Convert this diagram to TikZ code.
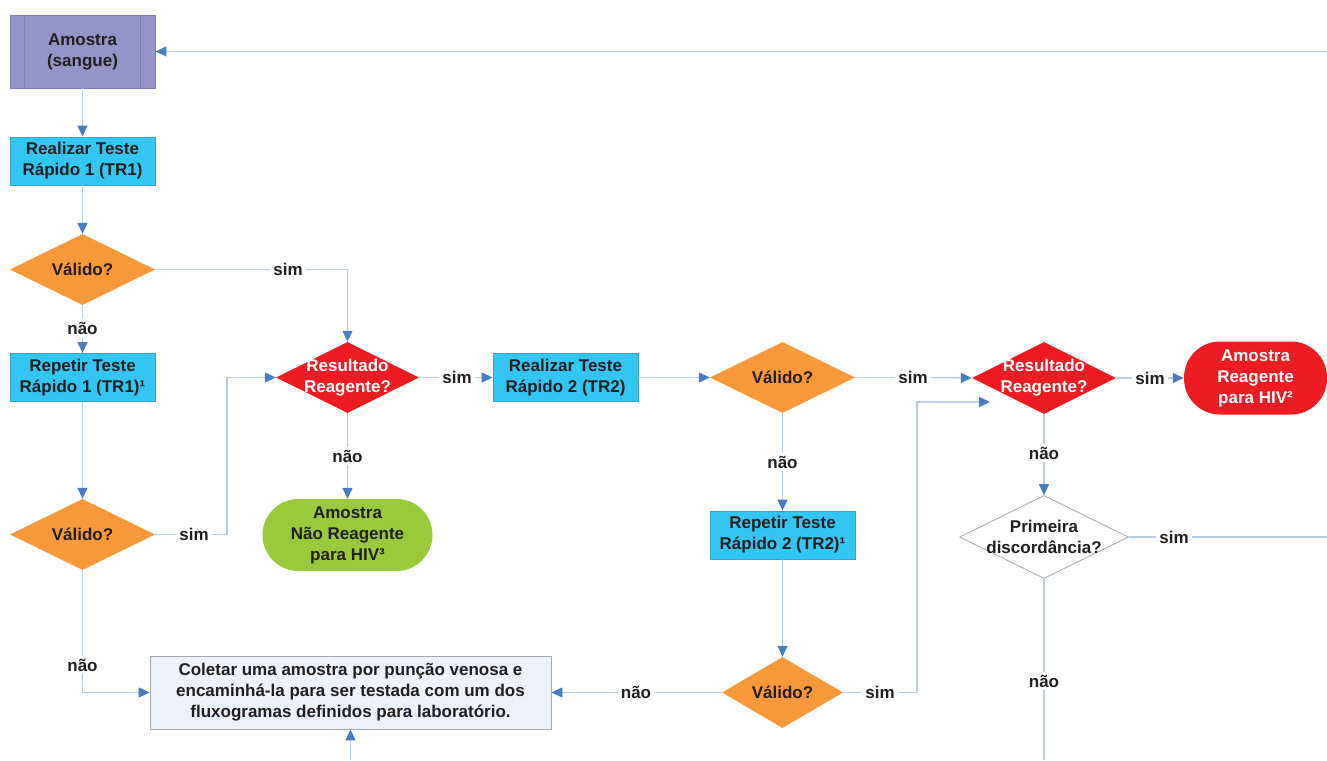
\documentclass[tikz,border=0pt]{standalone}
\usepackage{fontspec}
\setmainfont{Liberation Sans}
\usetikzlibrary{shapes.geometric,arrows.meta}
\definecolor{txt}{HTML}{231F20}
\definecolor{purplef}{HTML}{9594C8}
\definecolor{purpleb}{HTML}{7D7CB0}
\definecolor{cyanf}{HTML}{33C6F2}
\definecolor{cyanb}{HTML}{3AA0D2}
\definecolor{orangef}{HTML}{F7993A}
\definecolor{redf}{HTML}{ED1C24}
\definecolor{greenf}{HTML}{9BC93C}
\definecolor{colf}{HTML}{ECF1FA}
\definecolor{colb}{HTML}{A8A8A8}
\definecolor{linec}{HTML}{BACDE6}
\definecolor{arrc}{HTML}{4A7CC4}
\begin{document}
\begin{tikzpicture}[x=1pt,y=-1pt,
  every node/.style={font=\fontsize{17}{21}\selectfont\bfseries, text=txt},
  box/.style={draw=cyanb, fill=cyanf, line width=0.8pt, minimum width=145pt, minimum height=48pt, inner sep=0pt, align=center},
  dia/.style={diamond, minimum width=145pt, minimum height=71pt, inner sep=0pt},
  term/.style={minimum height=72pt, rounded corners=36pt, inner sep=0pt, align=center},
  lbl/.style={fill=white, inner sep=3pt},
  conn/.style={draw=linec, line width=1.3pt},
  arr/.style={conn, -{Triangle[length=11pt,width=10pt,color=arrc]}}
]
\useasboundingbox (0,0) rectangle (1327,760);

% nodes
\node[draw=purpleb, fill=purplef, line width=0.8pt, minimum width=145pt, minimum height=73pt, inner sep=0pt, align=center] (am) at (82.5,51.5) {Amostra\\(sangue)};
\draw[purpleb, line width=0.8pt] ([xshift=15pt]am.north west) -- ([xshift=15pt]am.south west);
\draw[purpleb, line width=0.8pt] ([xshift=-15pt]am.north east) -- ([xshift=-15pt]am.south east);

\node[box] (tr1) at (82.5,161) {Realizar Teste\\Rápido 1 (TR1)};
\node[dia, fill=orangef, label={center:Válido?}] (v1) at (82.5,269.5) {};
\node[box] (rep1) at (82.5,377.5) {Repetir Teste\\Rápido 1 (TR1)¹};
\node[dia, fill=orangef, label={center:Válido?}] (v2) at (82.5,534.5) {};

\node[dia, fill=redf, minimum width=143pt, label={[text=white, align=center]center:Resultado\\Reagente?}] (r1) at (347.5,377.5) {};
\node[term, fill=greenf, minimum width=170pt] (g1) at (347.5,535) {Amostra\\Não Reagente\\para HIV³};

\node[box] (tr2) at (565.5,377.5) {Realizar Teste\\Rápido 2 (TR2)};
\node[dia, fill=orangef, label={center:Válido?}] (v3) at (782.5,377.5) {};
\node[box] (rep2) at (782.5,535) {Repetir Teste\\Rápido 2 (TR2)¹};
\node[dia, fill=orangef, minimum width=121pt, label={center:Válido?}] (v4) at (782.5,692.5) {};

\node[draw=colb, fill=colf, line width=0.8pt, minimum width=401pt, minimum height=73pt, inner sep=0pt, align=center] (co) at (350.5,692.5) {Coletar uma amostra por punção venosa e\\encaminhá-la para ser testada com um dos\\fluxogramas definidos para laboratório.};

\node[dia, fill=redf, minimum width=144pt, minimum height=72pt, label={[text=white, align=center]center:Resultado\\Reagente?}] (r2) at (1044,378) {};
\node[term, fill=redf, minimum width=143pt, minimum height=73pt, text=white] (rt) at (1255.5,378) {Amostra\\Reagente\\para HIV²};
\node[dia, fill=white, draw=colb, line width=0.8pt, minimum width=169pt, minimum height=83pt, label={[align=center]center:Primeira\\discordância?}] (pd) at (1044,537) {};

% labels
\node[lbl] (s1) at (288,269.5) {sim};
\node[lbl] (n1) at (82.5,328) {não};
\node[lbl] (s2) at (194,534.5) {sim};
\node[lbl] (n2) at (82.5,665) {não};
\node[lbl] (n3) at (347.5,456) {não};
\node[lbl] (s3) at (457,377.5) {sim};
\node[lbl] (s4) at (913,377.5) {sim};
\node[lbl] (n4) at (782.5,462) {não};
\node[lbl] (n5) at (636,692.5) {não};
\node[lbl] (s5) at (880,692.5) {sim};
\node[lbl] (s6) at (1150,378) {sim};
\node[lbl] (n6) at (1044,453) {não};
\node[lbl] (s7) at (1174,537) {sim};
\node[lbl] (n7) at (1044,681) {não};

% free ends
\coordinate (topR) at (1327,51.5);
\coordinate (c2) at (227,534.5);
\coordinate (c5) at (917,692.5);
\coordinate (c6) at (990,402);
\coordinate (pdR) at (1327,537);
\coordinate (pdB) at (1044,760);
\coordinate (coB) at (350.5,760);

% connectors
\draw[arr] (topR) -- (am.east);
\draw[arr] (am) -- (tr1);
\draw[arr] (tr1) -- (v1);
\draw[conn] (v1.east) -- (s1);
\draw[arr] (s1.east) -| (r1.north);
\draw[conn] (v1.south) -- (n1);
\draw[arr] (n1) -- (rep1);
\draw[arr] (rep1) -- (v2);
\draw[conn] (v2.east) -- (s2);
\draw[arr] (s2.east) -- (c2) |- (r1.west);
\draw[conn] (v2.south) -- (n2);
\draw[arr] (n2.south) |- (co.west);
\draw[conn] (r1.south) -- (n3);
\draw[arr] (n3) -- (g1);
\draw[conn] (r1.east) -- (s3);
\draw[arr] (s3) -- (tr2);
\draw[arr] (tr2) -- (v3.west);
\draw[conn] (v3.east) -- (s4);
\draw[arr] (s4) -- (r2.west);
\draw[conn] (v3.south) -- (n4);
\draw[arr] (n4) -- (rep2);
\draw[arr] (rep2) -- (v4);
\draw[conn] (v4.west) -- (n5);
\draw[arr] (n5) -- (co.east);
\draw[conn] (v4.east) -- (s5);
\draw[arr] (s5.east) -- (c5) |- (c6);
\draw[conn] (r2.east) -- (s6);
\draw[arr] (s6) -- (rt.west);
\draw[conn] (r2.south) -- (n6);
\draw[arr] (n6) -- (pd.north);
\draw[conn] (pd.east) -- (s7);
\draw[conn] (s7) -- (pdR);
\draw[conn] (pd.south) -- (n7);
\draw[conn] (n7) -- (pdB);
\draw[arr] (coB) -- (co.south);
\end{tikzpicture}
\end{document}
